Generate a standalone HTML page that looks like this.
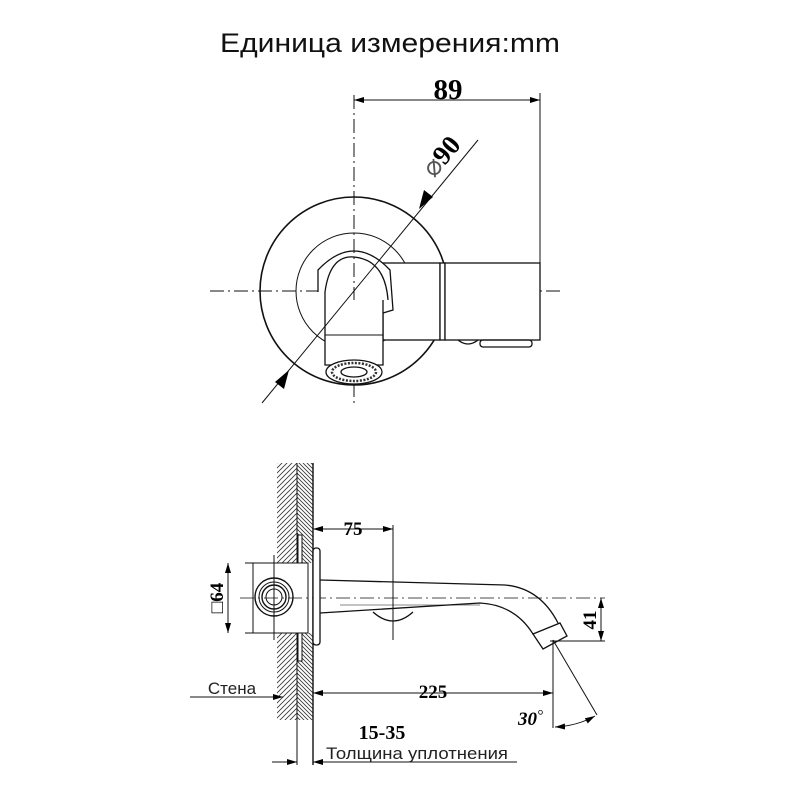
<!DOCTYPE html>
<html><head><meta charset="utf-8"><style>
html,body{margin:0;padding:0;background:#fff;}
svg{display:block}
</style></head><body>
<svg width="800" height="800" viewBox="0 0 800 800" xmlns="http://www.w3.org/2000/svg">
<defs>
<pattern id="h1" width="5" height="5" patternUnits="userSpaceOnUse"><path d="M0,5 L5,0 M-1,1 L1,-1 M4,6 L6,4" stroke="#333" stroke-width="0.8"/></pattern>
<pattern id="h2" width="4" height="4" patternUnits="userSpaceOnUse"><path d="M0,0 L4,4 M-1,3 L1,5 M3,-1 L5,1" stroke="#333" stroke-width="0.8"/></pattern>
<marker id="a" viewBox="0 0 10 6" refX="10" refY="3" markerWidth="10" markerHeight="6" orient="auto-start-reverse" markerUnits="userSpaceOnUse"><path d="M0,0 L10,3 L0,6 Z" fill="#000"/></marker>
</defs>
<text x="390" y="52" font-family="Liberation Sans, sans-serif" font-size="27" text-anchor="middle" fill="#111" textLength="340" lengthAdjust="spacingAndGlyphs">Единица измерения:mm</text>

<g fill="none" stroke="#111" stroke-width="1.3">
<line x1="354" y1="95" x2="354" y2="405" stroke-dasharray="14,4,2,4" stroke-width="1"/>
<line x1="210" y1="291" x2="562" y2="291" stroke-dasharray="14,4,2,4" stroke-width="1"/>
<circle cx="354" cy="291" r="94" stroke-width="1.6"/>
<circle cx="354" cy="291" r="58" stroke-width="1"/>
<rect x="383" y="263" width="57" height="77" fill="#fff"/>
<rect x="440" y="263" width="5" height="77" fill="#fff"/>
<rect x="445" y="263" width="95" height="77" fill="#fff"/>
<rect x="480" y="340" width="52" height="7" rx="3"/>
<path d="M458,340 Q468,348 478,340"/>
<path d="M318,292 L318,270 Q354,232 390,270 L393,310 L383,313" fill="#fff"/>
<path d="M325,292 Q330,255 354,257 Q385,260 388,300" />
<path d="M325,292 L325,365 L383,365 L383,300" fill="#fff"/>
<line x1="325" y1="335" x2="383" y2="335" stroke-width="1"/>
<ellipse cx="354" cy="372" rx="28" ry="12" fill="#fff"/>
<ellipse cx="354" cy="372" rx="22" ry="9" stroke-dasharray="2,1.5" stroke-width="2.5" stroke="#333"/>
<ellipse cx="354" cy="372" rx="13" ry="5"/>
<line x1="354" y1="95" x2="354" y2="300" stroke-dasharray="14,4,2,4" stroke-width="1"/>
<line x1="262" y1="403" x2="478" y2="140" stroke-width="1"/>
<line x1="540" y1="93" x2="540" y2="340" stroke-width="1"/>
<line x1="354" y1="100" x2="540" y2="100" stroke-width="1" marker-start="url(#a)" marker-end="url(#a)"/>
</g>
<path d="M419,209 L424,190 L433,197 Z" fill="#000"/>
<path d="M289,370 L284,389 L275,382 Z" fill="#000"/>
<text x="448" y="99" font-family="Liberation Serif, serif" font-weight="bold" font-size="29" text-anchor="middle">89</text>
<text transform="translate(448,162) rotate(-50)" font-family="Liberation Serif, serif" font-weight="bold" font-size="27" text-anchor="middle"><tspan font-weight="normal" fill="#555">⌀</tspan>90</text>

<g fill="none" stroke="#111" stroke-width="1">
<rect x="277" y="463" width="20" height="257" fill="url(#h1)" stroke="none"/>
<rect x="297" y="463" width="16" height="100" fill="url(#h2)" stroke="none"/>
<rect x="297" y="633" width="16" height="87" fill="url(#h2)" stroke="none"/>
<line x1="297" y1="463" x2="297" y2="765"/>
<line x1="313" y1="463" x2="313" y2="765" stroke-width="1.4"/>
<rect x="298" y="535" width="4" height="28" fill="#fff"/>
<rect x="298" y="633" width="4" height="28" fill="#fff"/>
<rect x="253" y="563" width="55" height="70" fill="#fff"/>
<line x1="240" y1="598" x2="605" y2="598" stroke-dasharray="14,4,2,4" stroke-width="0.8"/>
<line x1="274" y1="555" x2="274" y2="640"/>
<circle cx="274" cy="597" r="19" stroke-width="1.4"/>
<circle cx="274" cy="597" r="15"/>
<circle cx="274" cy="597" r="12" stroke-width="1.4"/>
<circle cx="274" cy="597" r="8"/>
<rect x="313" y="548" width="7" height="97" rx="3" fill="#fff" stroke-width="1.3"/>
<path d="M320,580 L505,585 Q540,588 558,623" stroke-width="1.3"/>
<path d="M320,613 L480,603 Q515,605 533,634" stroke-width="1.3"/>
<path d="M533,634 L560,623 L567,636 L543,649 Z" stroke-width="1.3" fill="#fff"/>
<path d="M373,612 Q393,630 413,612" stroke-width="1.3"/>
<line x1="340" y1="605" x2="480" y2="605" stroke-width="0.6"/>
<line x1="393" y1="525" x2="393" y2="640"/>
<line x1="313" y1="529" x2="393" y2="529" marker-start="url(#a)" marker-end="url(#a)"/>
<line x1="245" y1="563" x2="253" y2="563"/><line x1="245" y1="633" x2="253" y2="633"/>
<line x1="228" y1="563" x2="228" y2="633" marker-start="url(#a)" marker-end="url(#a)"/>
<line x1="550" y1="641" x2="605" y2="641"/>
<line x1="601" y1="598" x2="601" y2="641" marker-start="url(#a)" marker-end="url(#a)"/>
<line x1="553" y1="640" x2="553" y2="728"/>
<line x1="553" y1="640" x2="597" y2="715"/>
<line x1="313" y1="693" x2="553" y2="693" marker-start="url(#a)" marker-end="url(#a)"/>
<path d="M555,727 Q577,726 595,716" marker-start="url(#a)" marker-end="url(#a)"/>
<line x1="190" y1="697" x2="283" y2="697" marker-end="url(#a)"/>
<line x1="272" y1="762" x2="297" y2="762" marker-end="url(#a)"/>
<line x1="517" y1="762" x2="313" y2="762" marker-end="url(#a)"/>
</g>
<text x="353" y="535" font-family="Liberation Serif, serif" font-weight="bold" font-size="19" text-anchor="middle">75</text>
<text transform="translate(227,598) rotate(-90)" font-family="Liberation Serif, serif" font-weight="bold" font-size="19" text-anchor="middle" dy="-4"><tspan font-weight="normal">□</tspan>64</text>
<text transform="translate(600,620) rotate(-90)" font-family="Liberation Serif, serif" font-weight="bold" font-size="19" text-anchor="middle" dy="-4">41</text>
<text x="433" y="698" font-family="Liberation Serif, serif" font-weight="bold" font-size="19" text-anchor="middle">225</text>
<text x="518" y="725" font-family="Liberation Serif, serif" font-weight="bold" font-style="italic" font-size="19">30<tspan font-weight="normal" font-size="15" dy="-5">°</tspan></text>
<text x="232" y="694" font-family="Liberation Sans, sans-serif" font-size="17" text-anchor="middle" fill="#222">Стена</text>
<text x="382" y="739" font-family="Liberation Serif, serif" font-weight="bold" font-size="20" text-anchor="middle">15-35</text>
<text x="326" y="759" font-family="Liberation Sans, sans-serif" font-size="17" fill="#222" textLength="182" lengthAdjust="spacingAndGlyphs">Толщина уплотнения</text>
</svg>
</body></html>
